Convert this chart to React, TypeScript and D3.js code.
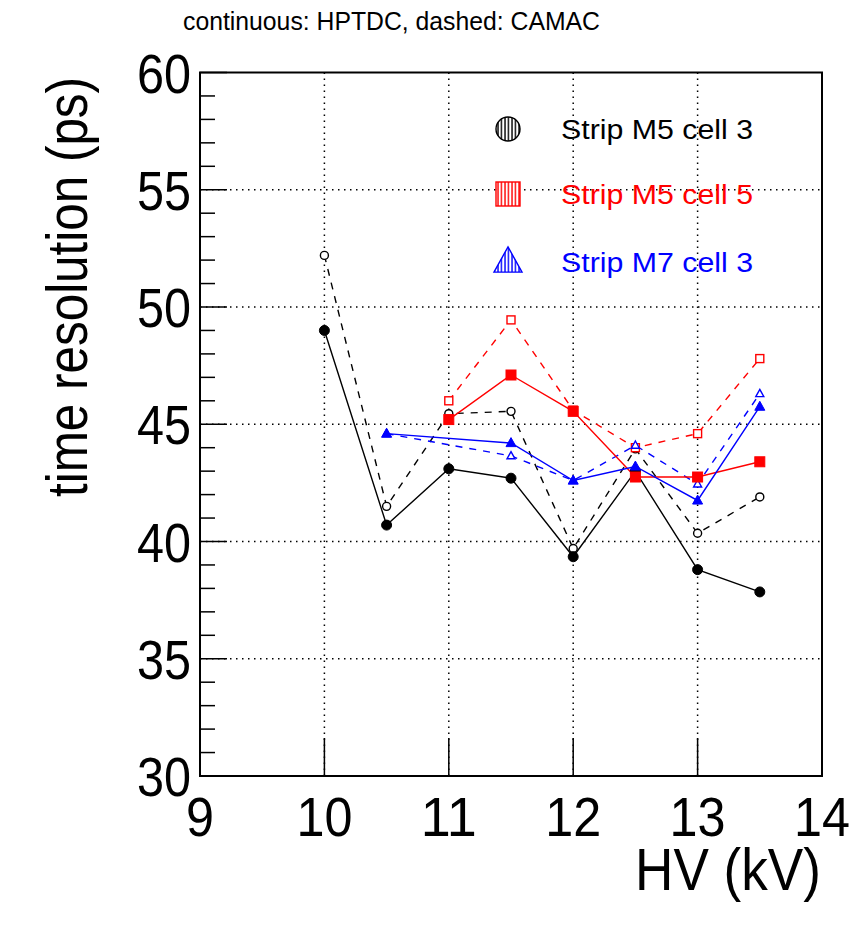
import React from "react";
import * as d3 from "d3";

// HV settings (kV)
const hvAll = [10, 10.5, 11, 11.5, 12, 12.5, 13, 13.5];
const hvFrom105 = [10.5, 11.5, 12, 12.5, 13, 13.5];
const hvFrom11 = [11, 11.5, 12, 12.5, 13, 13.5];

// time resolution (ps)
const m5c3Hptdc = [49.0, 40.7, 43.1, 42.7, 39.35, 43.0, 38.8, 37.85];
const m5c3Camac = [52.2, 41.5, 45.45, 45.55, 39.7, 43.95, 40.35, 41.9];
const m5c5Hptdc = [45.2, 47.1, 45.55, 42.75, 42.75, 43.4];
const m5c5Camac = [46.0, 49.45, 45.6, 44.0, 44.6, 47.8];
const m7c3Hptdc = [44.6, 44.2, 42.6, 43.2, 41.75, 45.75];
const m7c3Camac = [44.6, 43.65, 42.6, 44.1, 42.45, 46.3];

const xTicks = [9, 10, 11, 12, 13, 14];
const yTicks = [30, 35, 40, 45, 50, 55, 60];
const legendLabels = ["Strip M5 cell 3", "Strip M5 cell 5", "Strip M7 cell 3"];
const titleText = "continuous: HPTDC, dashed: CAMAC";
const xTitle = "HV (kV)";
const yTitle = "time resolution (ps)";

const W = 856;
const H = 927;
const left = 200;
const right = 822;
const top = 72.5;
const bottom = 776;
const FONT = "'Liberation Sans', Arial, Helvetica, sans-serif";

type Shape = "circle" | "square" | "triangle";

interface Series {
  xs: number[];
  ys: number[];
  color: string;
  dashed: boolean;
  shape: Shape;
}

const series: Series[] = [
  { xs: hvAll, ys: m5c3Camac, color: "#000000", dashed: true, shape: "circle" },
  { xs: hvFrom11, ys: m5c5Camac, color: "#ff0000", dashed: true, shape: "square" },
  { xs: hvFrom105, ys: m7c3Camac, color: "#0000ff", dashed: true, shape: "triangle" },
  { xs: hvAll, ys: m5c3Hptdc, color: "#000000", dashed: false, shape: "circle" },
  { xs: hvFrom11, ys: m5c5Hptdc, color: "#ff0000", dashed: false, shape: "square" },
  { xs: hvFrom105, ys: m7c3Hptdc, color: "#0000ff", dashed: false, shape: "triangle" },
];

function Marker({ shape, cx, cy, color, filled, size, fill }: {
  shape: Shape; cx: number; cy: number; color: string; filled: boolean; size: number; fill?: string;
}) {
  const f = fill ?? (filled ? color : "white");
  const sw = filled ? 1 : 1.4;
  if (shape === "circle") {
    return <circle cx={cx} cy={cy} r={size / 2} fill={f} stroke={color} strokeWidth={sw} />;
  }
  if (shape === "square") {
    return <rect x={cx - size / 2} y={cy - size / 2} width={size} height={size} fill={f} stroke={color} strokeWidth={sw} />;
  }
  const h = size * 0.9;
  const pts = [
    [cx, cy - h * 0.6],
    [cx + size / 2, cy + h * 0.4],
    [cx - size / 2, cy + h * 0.4],
  ];
  return <polygon points={pts.map((p) => p.join(",")).join(" ")} fill={f} stroke={color} strokeWidth={sw} />;
}

export default function App() {
  const x = d3.scaleLinear().domain([9, 14]).range([left, right]);
  const y = d3.scaleLinear().domain([30, 60]).range([bottom, top]);
  const line = d3.line<[number, number]>().x((d) => x(d[0])).y((d) => y(d[1]));

  const minorY = d3.range(30, 61, 1).filter((v) => v % 5 !== 0);
  const legendColors = ["#000000", "#ff0000", "#0000ff"];
  const legendShapes: Shape[] = ["circle", "square", "triangle"];
  const legendY = [129, 194, 262];

  return (
    <svg width={W} height={H} style={{ display: "block", margin: 0, position: "absolute", left: 0, top: 0 }}>
      <defs>
        {legendColors.map((c, i) => (
          <pattern key={i} id={`hatch${i}`} width={3.5} height={4} patternUnits="userSpaceOnUse">
            <rect width={3.5} height={4} fill="white" />
            <line x1={1} y1={0} x2={1} y2={4} stroke={c} strokeWidth={1.4} />
          </pattern>
        ))}
      </defs>
      <rect width={W} height={H} fill="white" />

      {/* grid */}
      {xTicks.slice(1, -1).map((t) => (
        <line key={`gx${t}`} x1={x(t)} x2={x(t)} y1={top} y2={bottom} stroke="#000" strokeWidth={1.5} strokeDasharray="1.5,4.5" />
      ))}
      {yTicks.slice(1, -1).map((t) => (
        <line key={`gy${t}`} x1={left} x2={right} y1={y(t)} y2={y(t)} stroke="#000" strokeWidth={1.5} strokeDasharray="1.5,4.5" />
      ))}

      {/* y ticks */}
      {yTicks.map((t) => (
        <line key={`ty${t}`} x1={left} x2={left + 27} y1={y(t)} y2={y(t)} stroke="#000" strokeWidth={1.5} />
      ))}
      {minorY.map((t) => (
        <line key={`my${t}`} x1={left} x2={left + 15} y1={y(t)} y2={y(t)} stroke="#000" strokeWidth={1.5} />
      ))}
      {/* x ticks */}
      {xTicks.map((t) => (
        <line key={`tx${t}`} x1={x(t)} x2={x(t)} y1={bottom} y2={bottom - 38} stroke="#000" strokeWidth={1.5} />
      ))}

      {/* data lines */}
      {series.map((s, i) => (
        <path
          key={`l${i}`}
          d={line(s.xs.map((v, j) => [v, s.ys[j]] as [number, number])) ?? ""}
          fill="none"
          stroke={s.color}
          strokeWidth={1.4}
          strokeDasharray={s.dashed ? "7,7" : undefined}
        />
      ))}
      {/* markers */}
      {series.map((s, i) =>
        s.xs.map((v, j) => (
          <Marker
            key={`m${i}-${j}`}
            shape={s.shape}
            cx={x(v)}
            cy={y(s.ys[j])}
            color={s.color}
            filled={!s.dashed}
            size={s.dashed ? 8 : 10}
          />
        ))
      )}

      {/* legend */}
      {legendLabels.map((lab, i) => (
        <g key={`lg${i}`}>
          <Marker shape={legendShapes[i]} cx={508} cy={legendY[i]} color={legendColors[i]} filled={false} size={legendShapes[i] === "triangle" ? 28 : 24} fill={`url(#hatch${i})`} />
          <text x={561} y={legendY[i] + 10} fontFamily={FONT} fontSize={27} fill={legendColors[i]} textLength={192} lengthAdjust="spacingAndGlyphs">
            {lab}
          </text>
        </g>
      ))}

      {/* frame */}
      <rect x={left} y={top} width={right - left} height={bottom - top} fill="none" stroke="#000" strokeWidth={2} />

      {/* tick labels */}
      {xTicks.map((t) => (
        <text key={`xl${t}`} x={x(t)} y={836} textAnchor="middle" fontFamily={FONT} fontSize={56} fill="#000"
          textLength={t >= 10 ? 56 : 28} lengthAdjust="spacingAndGlyphs">
          {t}
        </text>
      ))}
      {yTicks.map((t) => (
        <text key={`yl${t}`} x={191} y={y(t) + 20} textAnchor="end" fontFamily={FONT} fontSize={56} fill="#000"
          textLength={54} lengthAdjust="spacingAndGlyphs">
          {t}
        </text>
      ))}

      {/* titles */}
      <text x={183} y={30} fontFamily={FONT} fontSize={26} fill="#000" textLength={417} lengthAdjust="spacingAndGlyphs">
        {titleText}
      </text>
      <text x={821} y={890} textAnchor="end" fontFamily={FONT} fontSize={60} fill="#000" textLength={186} lengthAdjust="spacingAndGlyphs">
        {xTitle}
      </text>
      <text transform="translate(87,77) rotate(-90)" textAnchor="end" fontFamily={FONT} fontSize={58} fill="#000"
        textLength={420} lengthAdjust="spacingAndGlyphs">
        {yTitle}
      </text>
    </svg>
  );
}
